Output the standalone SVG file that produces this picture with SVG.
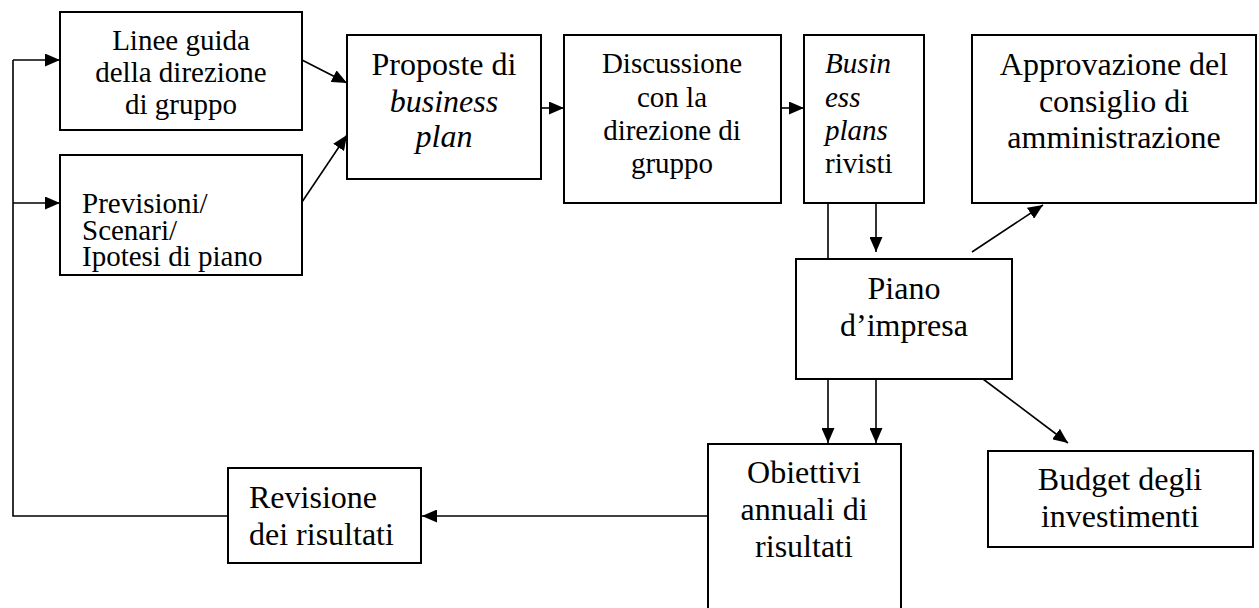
<svg xmlns="http://www.w3.org/2000/svg" width="1259" height="608" viewBox="0 0 1259 608">
  <style>
    .box { fill: #ffffff; stroke: #000000; stroke-width: 2; }
    .lbl { font-family: "Liberation Serif", "Times New Roman", serif; fill: #000000; }
    .s29 { font-size: 29px; }
    .s32 { font-size: 32px; }
    .c { text-anchor: middle; }
    .it { font-style: italic; }
    .wire { fill: none; stroke: #000000; stroke-width: 1.6; }
    .arr { marker-end: url(#head); }
  </style>
  <defs>
    <marker id="head" markerUnits="userSpaceOnUse" markerWidth="15" markerHeight="13" refX="15" refY="6.5" orient="auto">
      <path d="M0,0 L15,6.5 L0,13 Z" fill="#000000"/>
    </marker>
  </defs>
  <rect width="1259" height="608" fill="#ffffff"/>

  <!-- connectors -->
  <g id="connectors">
    <!-- feedback loop from results review back to the inputs -->
    <polyline class="wire" points="228,516 13,516 13,60"/>
    <line class="wire arr" x1="13" y1="60" x2="60" y2="60"/>
    <line class="wire arr" x1="13" y1="203" x2="60" y2="203"/>
    <!-- inputs into the business plan proposals -->
    <line class="wire arr" x1="302" y1="60" x2="347" y2="83"/>
    <line class="wire arr" x1="302" y1="202" x2="347" y2="135"/>
    <!-- top row flow -->
    <line class="wire arr" x1="541" y1="108" x2="564" y2="108"/>
    <line class="wire arr" x1="781" y1="108" x2="804" y2="108"/>
    <!-- revised plans down to the company plan -->
    <line class="wire" x1="828" y1="203" x2="828" y2="259"/>
    <line class="wire arr" x1="876" y1="203" x2="876" y2="252"/>
    <!-- company plan outputs -->
    <line class="wire arr" x1="972" y1="252" x2="1043" y2="205"/>
    <line class="wire arr" x1="983" y1="379" x2="1068" y2="443"/>
    <line class="wire arr" x1="828" y1="379" x2="828" y2="443"/>
    <line class="wire arr" x1="876" y1="379" x2="876" y2="443"/>
    <!-- annual targets to results review -->
    <line class="wire arr" x1="708" y1="516" x2="422" y2="516"/>
  </g>

  <g id="linee-guida">
    <rect class="box" x="60" y="12" width="242" height="118"/>
    <text class="lbl s29 c" x="181" y="50">Linee guida</text>
    <text class="lbl s29 c" x="181" y="82">della direzione</text>
    <text class="lbl s29 c" x="181" y="114">di gruppo</text>
  </g>

  <g id="previsioni">
    <rect class="box" x="60" y="155" width="242" height="120"/>
    <text class="lbl s29" x="82" y="213">Previsioni/</text>
    <text class="lbl s29" x="82" y="240">Scenari/</text>
    <text class="lbl s29" x="82" y="266">Ipotesi di piano</text>
  </g>

  <g id="proposte">
    <rect class="box" x="347" y="35" width="194" height="144"/>
    <text class="lbl s32 c" x="444" y="75">Proposte di</text>
    <text class="lbl s32 c it" x="444" y="112">business</text>
    <text class="lbl s32 c it" x="444" y="147">plan</text>
  </g>

  <g id="discussione">
    <rect class="box" x="564" y="35" width="217" height="168"/>
    <text class="lbl s29 c" x="672" y="73">Discussione</text>
    <text class="lbl s29 c" x="672" y="107">con la</text>
    <text class="lbl s29 c" x="672" y="140">direzione di</text>
    <text class="lbl s29 c" x="672" y="173">gruppo</text>
  </g>

  <g id="business-plans">
    <rect class="box" x="804" y="35" width="120" height="168"/>
    <text class="lbl s29 it" x="825" y="73">Busin</text>
    <text class="lbl s29 it" x="825" y="107">ess</text>
    <text class="lbl s29 it" x="825" y="140">plans</text>
    <text class="lbl s29" x="825" y="173">rivisti</text>
  </g>

  <g id="approvazione">
    <rect class="box" x="972" y="35" width="284" height="168"/>
    <text class="lbl s32 c" x="1114" y="75">Approvazione del</text>
    <text class="lbl s32 c" x="1114" y="112">consiglio di</text>
    <text class="lbl s32 c" x="1114" y="148">amministrazione</text>
  </g>

  <g id="piano">
    <rect class="box" x="796" y="259" width="216" height="120"/>
    <text class="lbl s32 c" x="904" y="299">Piano</text>
    <text class="lbl s32 c" x="904" y="336">d’impresa</text>
  </g>

  <g id="obiettivi">
    <rect class="box" x="708" y="444" width="193" height="170"/>
    <text class="lbl s32 c" x="804" y="483">Obiettivi</text>
    <text class="lbl s32 c" x="804" y="520">annuali di</text>
    <text class="lbl s32 c" x="804" y="557">risultati</text>
  </g>

  <g id="budget">
    <rect class="box" x="988" y="451" width="265" height="96"/>
    <text class="lbl s32 c" x="1120" y="490">Budget degli</text>
    <text class="lbl s32 c" x="1120" y="527">investimenti</text>
  </g>

  <g id="revisione">
    <rect class="box" x="228" y="468" width="193" height="95"/>
    <text class="lbl s32" x="249" y="508">Revisione</text>
    <text class="lbl s32" x="249" y="545">dei risultati</text>
  </g>
</svg>
